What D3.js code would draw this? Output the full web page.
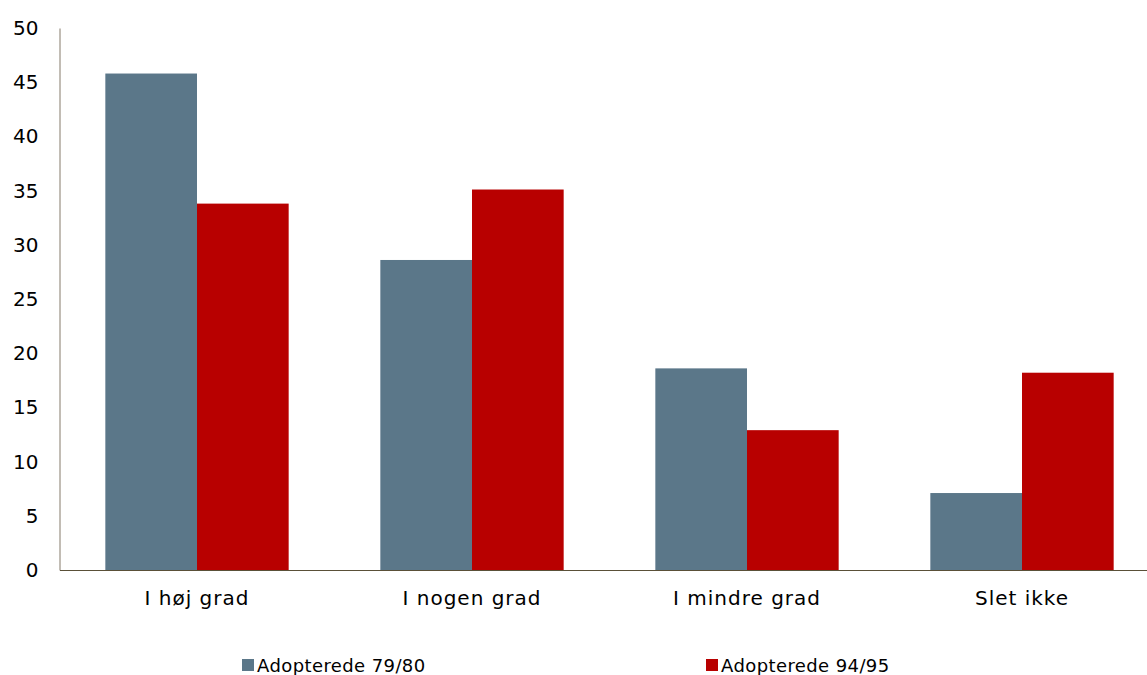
<!DOCTYPE html>
<html><head><meta charset="utf-8">
<script src="https://cdn.jsdelivr.net/npm/d3@7"></script>
<style>body{margin:0;background:#fff}svg{display:block}text{font-family:"DejaVu Sans",Verdana,sans-serif}</style>
</head><body>
<svg id="c" width="1147" height="675"></svg>
<script>
const categories = ["I høj grad", "I nogen grad", "I mindre grad", "Slet ikke"];
const seriesNames = ["Adopterede 79/80", "Adopterede 94/95"];
const values7980 = [45.8, 28.6, 18.6, 7.1];
const values9495 = [33.8, 35.1, 12.9, 18.2];
const yTicks = [0, 5, 10, 15, 20, 25, 30, 35, 40, 45, 50];
const colors = ["#5b7789", "#b80000"];

const svg = d3.select("#c");
const x0 = 59.5, x1 = 1159.5, yBottom = 570, yTop = 28;
const x = d3.scaleBand().domain(categories).range([x0, x1]).padding(0);
const xi = d3.scaleBand().domain(seriesNames).range([0, x.bandwidth()]).paddingInner(0).paddingOuter(0.5);
const y = d3.scaleLinear().domain([0, 50]).range([yBottom, yTop]);

const data = categories.map((c, i) => ({cat: c, vals: [values7980[i], values9495[i]]}));

const g = svg.append("g");
g.selectAll("g.grp").data(data).join("g").attr("class","grp")
  .attr("transform", d => `translate(${x(d.cat)},0)`)
  .selectAll("rect").data(d => d.vals.map((v, k) => ({v, k})))
  .join("rect")
  .attr("x", d => xi(seriesNames[d.k]))
  .attr("width", xi.bandwidth())
  .attr("y", d => y(d.v))
  .attr("height", d => y(0) - y(d.v))
  .attr("fill", d => colors[d.k]);

// y axis
const yAxis = svg.append("g").attr("transform", `translate(${x0},0)`)
  .call(d3.axisLeft(y).tickValues(yTicks).tickSize(0).tickPadding(21));
yAxis.select(".domain").attr("stroke", "#857a6a").attr("stroke-width", 1);
yAxis.selectAll("text").attr("font-size", 20).attr("fill", "#000")
  .attr("font-family", '"DejaVu Sans",Verdana,sans-serif');

// x axis
const xAxis = svg.append("g").attr("transform", `translate(0,${yBottom})`)
  .call(d3.axisBottom(x).tickSize(0).tickPadding(21));
xAxis.select(".domain").attr("stroke", "#5a5038").attr("stroke-width", 1.2);
xAxis.selectAll("text").attr("font-size", 20).attr("letter-spacing", 1).attr("fill", "#000")
  .attr("font-family", '"DejaVu Sans",Verdana,sans-serif');

// legend
const legendX = [242, 706];
const leg = svg.append("g");
seriesNames.forEach((s, k) => {
  leg.append("rect").attr("x", legendX[k]).attr("y", 659).attr("width", 12).attr("height", 12).attr("fill", colors[k]);
  leg.append("text").attr("x", legendX[k] + 15).attr("y", 672).attr("font-size", 18).attr("letter-spacing", 0.4).attr("fill", "#000").text(s);
});
</script>
</body></html>
